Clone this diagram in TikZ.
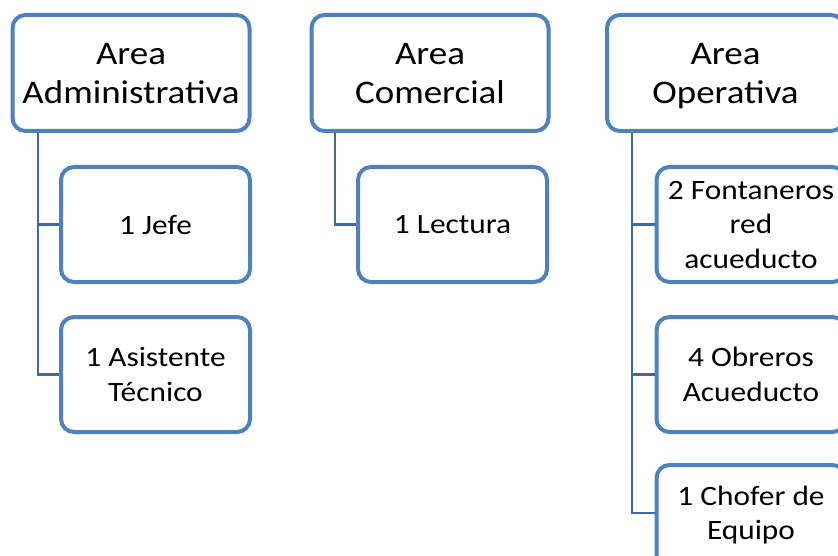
\documentclass[tikz,border=0pt]{standalone}
\usepackage{fontspec}
\setmainfont{Carlito}
\newfontfamily\boxfont[FakeStretch=1.12]{Carlito}
\definecolor{boxblue}{HTML}{4F81BD}
\definecolor{linkblue}{HTML}{41699E}
\tikzset{
  x=1pt, y=-1pt,
  orgbox/.style={draw=boxblue, line width=4pt, fill=white, rounded corners=13pt,
    inner sep=0pt, align=center, text depth=0pt},
  headbox/.style={orgbox, minimum width=237pt, minimum height=116pt,
    font=\boxfont\fontsize{33}{39}\selectfont},
  staffbox/.style={orgbox, minimum width=189pt, minimum height=115pt,
    font=\boxfont\fontsize{28}{34.5}\selectfont},
  link/.style={draw=linkblue, line width=2.8pt}
}
\begin{document}
\begin{tikzpicture}
\useasboundingbox (0,0) rectangle (838,556);
\clip (0,0) rectangle (838,556);
\fill[white] (0,0) rectangle (838,556);

% x positions of the vertical trunks
\coordinate (ja) at (38,131);
\coordinate (jc) at (335,131);
\coordinate (jo) at (632,131);

% administrative branch
\node[headbox] (adm) at (131,73) {Area\\Administrativa};
\node[staffbox] (jefe) at (155.5,224.5) {1 Jefe};
\node[staffbox] (asis) at (155.5,374.5) {1 Asistente\\Técnico};

% commercial branch
\node[headbox] (com) at (430,73) {Area\\Comercial};
\node[staffbox] (lect) at (452.5,224.5) {1 Lectura};

% operative branch
\node[headbox] (ope) at (725.5,73) {Area\\Operativa};
\node[staffbox] (font) at (751,224.5) {2 Fontaneros\\red\\acueducto};
\node[staffbox] (obre) at (751,374.5) {4 Obreros\\Acueducto};
% last box runs past the lower edge; its text sits a little above centre
\node[staffbox, text depth=19pt] (chof) at (751,522.5) {1 Chofer de\\Equipo};

% connectors from each head to its staff
\draw[link] (adm.south -| ja) |- (jefe.west);
\draw[link] (adm.south -| ja) |- (asis.west);
\draw[link] (com.south -| jc) |- (lect.west);
\draw[link] (ope.south -| jo) |- (font.west);
\draw[link] (ope.south -| jo) |- (obre.west);
\draw[link] (ope.south -| jo) |- ([yshift=9.5pt]chof.west);
\end{tikzpicture}
\end{document}
